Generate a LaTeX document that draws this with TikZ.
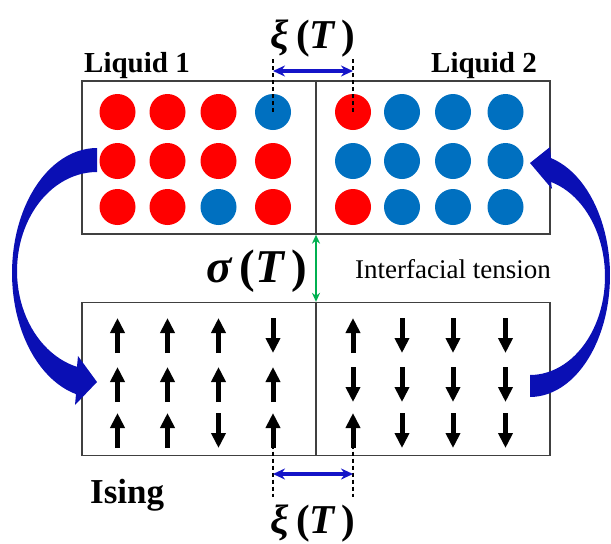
\documentclass[tikz,border=0pt]{standalone}
\usepackage{fontspec}
\setmainfont{Liberation Serif}
\usepackage{tikz}
\usetikzlibrary{arrows.meta,positioning,calc}
\definecolor{liqred}{HTML}{FF0000}
\definecolor{liqblue}{HTML}{0070C0}
\definecolor{mapblue}{HTML}{0A0FB4}
\definecolor{corrblue}{HTML}{1414C8}
\definecolor{tensgreen}{HTML}{00B050}
\newcommand{\ofT}[1]{{\bfseries\itshape #1}\,{\bfseries(}{\bfseries\itshape T}\,{\bfseries)}}

\begin{document}
\begin{tikzpicture}[x=1pt,y=-1pt,
  box/.style={draw=black!75, line width=1.3pt, minimum width=468pt, minimum height=153pt, inner sep=0pt},
  dot/.style={circle, minimum size=36pt, inner sep=0pt},
  spin/.style={line width=5pt, -{Triangle[length=15pt,width=14pt]}},
  guide/.style={line width=1.4pt, dash pattern=on 4pt off 3pt},
  corr/.style={corrblue, line width=3.5pt, {Stealth[length=12pt,width=11pt]}-{Stealth[length=12pt,width=11pt]}},
  tens/.style={tensgreen, line width=2.5pt, {Stealth[length=9pt,width=8pt]}-{Stealth[length=9pt,width=8pt]}},
  lbl/.style={inner sep=0pt},
  bold/.style={lbl, font=\fontsize{29}{30}\selectfont\bfseries}]
\useasboundingbox (0,0) rectangle (611,544);

\node[box] (liq) at (316,157.5) {};
\node[box] (ising) at (316,379) {};
\draw[black!75, line width=1.3pt] (liq.north) -- (liq.south);
\draw[black!75, line width=1.3pt] (ising.north) -- (ising.south);

\def\colx{{117.5,167.5,218.5,273,353,402,453,505.5}}
\foreach \r/\cy/\pat in {1/112/{1,1,1,-1,1,-1,-1,-1}, 2/161/{1,1,1,1,-1,-1,-1,-1}, 3/207/{1,1,-1,1,1,-1,-1,-1}}{
  \foreach \s [count=\i] in \pat {
    \pgfmathsetmacro{\cx}{\colx[\i-1]}
    \pgfmathsetmacro{\dy}{17.5*\s}
    \ifnum\s>0 \def\dc{liqred}\else\def\dc{liqblue}\fi
    \node[dot, fill=\dc] (p-\r-\i) at (\cx,\cy) {};
    \coordinate (s-\r-\i) at (\cx,\cy+223.5);
    \draw[spin] ([yshift=-\dy pt]s-\r-\i) -- ([yshift=\dy pt]s-\r-\i);
  }
}

\coordinate (xitop) at (0,58);
\coordinate (xiup) at (0,71);
\coordinate (xibot) at (0,497);
\coordinate (xidown) at (0,474);
\draw[guide] (p-1-4.center) -- (p-1-4 |- xitop);
\draw[guide] (p-1-5.center) -- (p-1-5 |- xitop);
\draw[corr] (p-1-4 |- xiup) -- (p-1-5 |- xiup);
\draw[guide] (s-3-4) -- (s-3-4 |- xibot);
\draw[guide] (s-3-5) -- (s-3-5 |- xibot);
\draw[corr] (s-3-4 |- xidown) -- (s-3-5 |- xidown);
\draw[tens] (liq.south) -- (ising.north);

\fill[mapblue] plot[domain=90:255.7, samples=50] ({97+85*cos(\x)},{273-125*sin(\x)})
  -- (75,405) -- (97,382) -- (78,356)
  -- plot[domain=255.5:90, samples=50] ({97+80*cos(\x)},{271-99*sin(\x)}) -- cycle;
\fill[mapblue] plot[domain=-90:74.8, samples=50] ({530+80*cos(\x)},{275.4-121.6*sin(\x)})
  -- (550,147) -- (530,163) -- (552,189)
  -- plot[domain=73.7:-90, samples=50] ({530+75*cos(\x)},{276.5-98.5*sin(\x)}) -- cycle;

\node[bold, anchor=base west] (liq1) at (84,72.5) {Liquid 1};
\node[bold, anchor=base west] (liq2) at (431,72.5) {Liquid 2};
\node[lbl, font=\fontsize{35}{36}\selectfont\bfseries, anchor=base west] (isl) at (90,503) {Ising};
\node[lbl, font=\fontsize{41}{42}\selectfont, anchor=base] (xit) at (313,48) {\ofT{ξ}};
\node[lbl, font=\fontsize{41}{42}\selectfont, anchor=base] (xib) at (313,533) {\ofT{ξ}};
\node[lbl, font=\fontsize{47}{48}\selectfont, anchor=base] (sig) at (257,282) {\ofT{σ}};
\node[lbl, font=\fontsize{27}{28}\selectfont, anchor=base west] (tensl) at (355,278) {Interfacial tension};
\end{tikzpicture}
\end{document}
